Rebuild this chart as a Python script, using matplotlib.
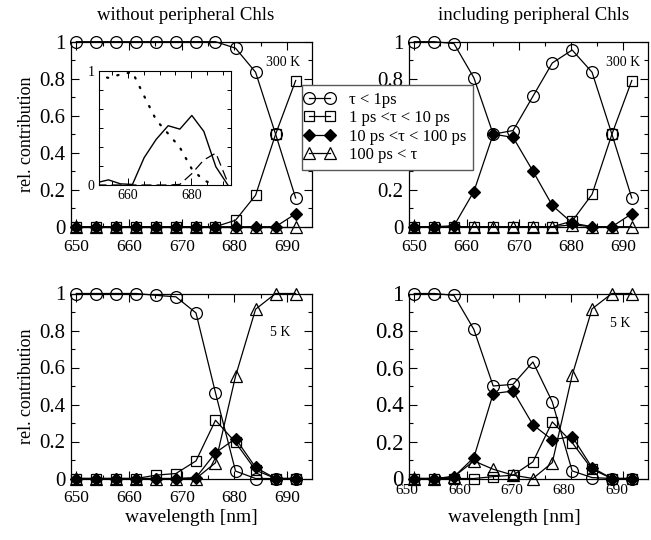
import matplotlib
matplotlib.use('Agg')
import matplotlib.pyplot as plt
from matplotlib.ticker import MultipleLocator, FixedLocator, FuncFormatter
from matplotlib.transforms import ScaledTranslation
from matplotlib.legend_handler import HandlerLine2D

plt.rcParams['font.family'] = ['Liberation Serif', 'DejaVu Serif']

wavelength = [650.0, 653.8, 657.6, 661.4, 665.1, 668.9, 672.7, 676.4, 680.2, 684.0, 687.8, 691.6]

lifetime_labels = ['τ < 1ps', '1 ps <τ < 10 ps', '10 ps <τ < 100 ps', '100 ps < τ']

# 300 K, without peripheral Chls
rt_core_fast = [1, 1, 1, 1, 1, 1, 1, 1, 0.965, 0.835, 0.5, 0.155]
rt_core_ps = [0, 0, 0, 0, 0, 0, 0, 0, 0.035, 0.17, 0.5, 0.79]
rt_core_10ps = [0, 0, 0, 0, 0, 0, 0, 0, 0, 0, 0, 0.07]
rt_core_slow = [0, 0, 0, 0, 0, 0, 0, 0, 0, 0, 0, 0]

# 300 K, including peripheral Chls
rt_full_fast = [1, 1, 0.99, 0.805, 0.5, 0.52, 0.705, 0.885, 0.955, 0.835, 0.5, 0.155]
rt_full_ps = [0, 0, 0, 0, 0, 0, 0, 0, 0.03, 0.175, 0.5, 0.79]
rt_full_10ps = [0, 0, 0.005, 0.19, 0.5, 0.483, 0.3, 0.115, 0.02, 0, 0, 0.07]
rt_full_slow = [0, 0, 0, 0, 0, 0, 0, 0, 0.01, 0, 0, 0]

# 5 K, without peripheral Chls
lt_core_fast = [1, 1, 1, 1, 0.99, 0.982, 0.895, 0.463, 0.04, 0, 0, 0]
lt_core_ps = [0, 0, 0, 0, 0.018, 0.027, 0.095, 0.315, 0.195, 0.045, 0, 0]
lt_core_10ps = [0, 0, 0, 0, 0, 0, 0.005, 0.139, 0.216, 0.06, 0, 0]
lt_core_slow = [0, 0, 0, 0, 0, 0, 0, 0.085, 0.553, 0.915, 1.0, 1.0]

# 5 K, including peripheral Chls
lt_full_fast = [1, 1, 0.99, 0.806, 0.5, 0.509, 0.63, 0.414, 0.041, 0.005, 0, 0]
lt_full_ps = [0, 0, 0, 0, 0.01, 0.018, 0.09, 0.306, 0.194, 0.05, 0, 0]
lt_full_10ps = [0, 0, 0.01, 0.113, 0.459, 0.473, 0.29, 0.209, 0.227, 0.059, 0, 0]
lt_full_slow = [0, 0, 0.01, 0.095, 0.05, 0.018, 0, 0.086, 0.558, 0.917, 1.0, 1.0]

# inset: spectral components, 300 K
inset_solid = [0.02, 0.045, 0.01, 0.005, 0.24, 0.40, 0.52, 0.49, 0.61, 0.47, 0.16, 0.0]
inset_dotted = [0.96, 0.94, 0.97, 0.99, 0.78, 0.57, 0.45, 0.33, 0.14, 0.04, 0.0]
inset_dashed = [0, 0, 0, 0, 0, 0, 0, 0.005, 0.1, 0.22, 0.28, 0.02]

marker_styles = [
    dict(marker='o', ms=8.5, mfc='none'),
    dict(marker='s', ms=7, mfc='none'),
    dict(marker='D', ms=6.5, mfc='black'),
    dict(marker='^', ms=8, mfc='none'),
]

fig = plt.figure(figsize=(6.51, 5.40), dpi=100)


def y_fmt(v, pos):
    return f'{v:g}'


def draw_panel(ax, series, temp, temp_xy, ysize=15, xsize=12.5, xpad=9):
    lines = []
    for values, style in zip(series, marker_styles):
        line, = ax.plot(wavelength, values, color='black', lw=0.9, mec='black',
                        mew=0.9, clip_on=False, **style)
        lines.append(line)
    ax.set_xlim(649, 694.7)
    ax.set_ylim(0, 1)
    ax.xaxis.set_major_locator(FixedLocator([650, 660, 670, 680, 690]))
    ax.xaxis.set_minor_locator(MultipleLocator(5))
    ax.yaxis.set_major_locator(MultipleLocator(0.2))
    ax.yaxis.set_minor_locator(MultipleLocator(0.1))
    ax.yaxis.set_major_formatter(FuncFormatter(y_fmt))
    ax.tick_params(which='both', direction='in', top=True, right=True, width=0.8)
    ax.tick_params(which='major', length=6)
    ax.tick_params(which='minor', length=3)
    ax.tick_params(axis='y', labelsize=ysize, pad=4)
    ax.tick_params(axis='x', labelsize=xsize, pad=xpad)
    for s in ax.spines.values():
        s.set_linewidth(0.9)
    ax.text(temp_xy[0], temp_xy[1], temp, transform=ax.transAxes,
            ha='right', va='center', fontsize=10)
    return lines


ax_tl = fig.add_axes([71 / 651, 1 - 226.7 / 540, 241 / 651, 185 / 540])
ax_tr = fig.add_axes([409 / 651, 1 - 226.7 / 540, 239 / 651, 185 / 540])
ax_bl = fig.add_axes([71 / 651, 1 - 478.5 / 540, 241 / 651, 185 / 540])
ax_br = fig.add_axes([409 / 651, 1 - 478.5 / 540, 239 / 651, 185 / 540])

handles = draw_panel(ax_tl, [rt_core_fast, rt_core_ps, rt_core_10ps, rt_core_slow],
                     '300 K', (0.95, 0.89))
draw_panel(ax_tr, [rt_full_fast, rt_full_ps, rt_full_10ps, rt_full_slow],
           '300 K', (0.966, 0.89))
draw_panel(ax_bl, [lt_core_fast, lt_core_ps, lt_core_10ps, lt_core_slow],
           '5 K', (0.91, 0.79), xpad=8)
draw_panel(ax_br, [lt_full_fast, lt_full_ps, lt_full_10ps, lt_full_slow],
           '5 K', (0.925, 0.837), ysize=16.5, xsize=11, xpad=4)

# the lower right panel has its wavelength labels set slightly to the left
shift = ScaledTranslation(-0.07, 0, fig.dpi_scale_trans)
for lbl in ax_br.get_xticklabels():
    lbl.set_transform(lbl.get_transform() + shift)

for ax in (ax_tl, ax_bl):
    ax.set_ylabel('rel. contribution', fontsize=13)
    ax.yaxis.set_label_coords(-0.15, 0.5)
for ax, xc in ((ax_bl, 0.5), (ax_br, 0.44)):
    ax.set_xlabel('wavelength [nm]', fontsize=14)
    ax.xaxis.set_label_coords(xc, -0.165)

fig.text(186 / 651, 1 - 15 / 540, 'without peripheral Chls', ha='center', va='center', fontsize=13.5)
fig.text(534 / 651, 1 - 15 / 540, 'including peripheral Chls', ha='center', va='center', fontsize=13.5)

# inset with the decomposed spectra
ax_in = fig.add_axes([99 / 651, 1 - 185 / 540, 132 / 651, 114 / 540])
ax_in.plot(wavelength, inset_solid, color='black', lw=1.0)
ax_in.plot(wavelength[:len(inset_dotted)], inset_dotted, color='black', lw=1.6,
           linestyle=(0, (0.6, 4.2)), dash_capstyle='round')
ax_in.plot(wavelength, inset_dashed, color='black', lw=0.9, linestyle=(0, (8, 4)))
ax_in.set_xlim(650.8, 692.6)
ax_in.set_ylim(0, 1)
ax_in.xaxis.set_major_locator(FixedLocator([660, 680]))
ax_in.xaxis.set_minor_locator(MultipleLocator(5))
ax_in.yaxis.set_major_locator(FixedLocator([0, 1]))
ax_in.yaxis.set_minor_locator(MultipleLocator(1 / 6))
ax_in.yaxis.set_major_formatter(FuncFormatter(y_fmt))
ax_in.tick_params(which='both', direction='in', top=True, right=True, width=0.7,
                  labelsize=10, pad=3)
ax_in.tick_params(which='major', length=5)
ax_in.tick_params(which='minor', length=3)
for s in ax_in.spines.values():
    s.set_linewidth(0.8)

fig.legend(handles, lifetime_labels, loc='upper left',
           bbox_to_anchor=(302 / 651, 1 - 85 / 540), borderaxespad=0,
           fontsize=12, numpoints=2, handlelength=1.3, handletextpad=1.1,
           labelspacing=0.15, borderpad=0.4, fancybox=False, framealpha=1,
           edgecolor='0.35',
           handler_map={h: HandlerLine2D(marker_pad=0) for h in handles})

fig.savefig('out.png', dpi=100)
